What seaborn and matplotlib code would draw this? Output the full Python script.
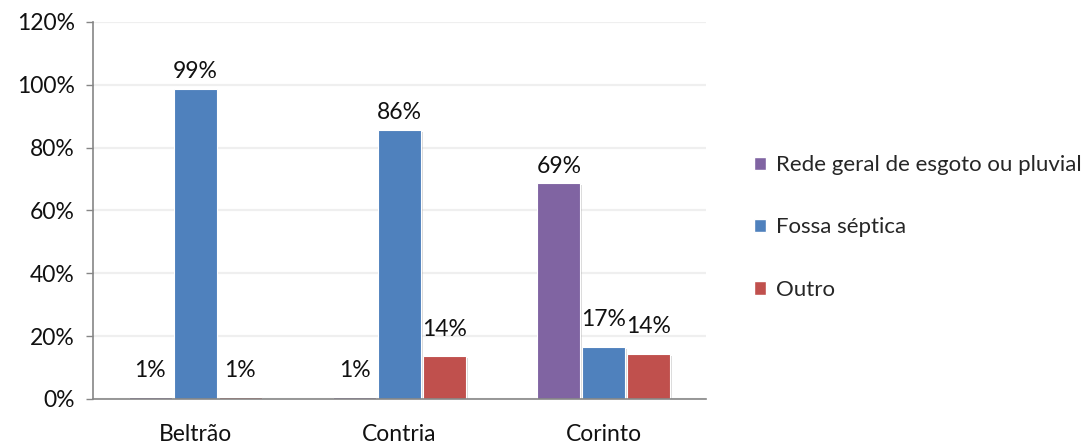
import matplotlib
matplotlib.use("Agg")
import matplotlib.pyplot as plt
import matplotlib.patheffects as pe
import seaborn as sns
import pandas as pd

# Destino do esgoto por localidade (%)
localidades = ["Beltrão", "Contria", "Corinto"]
series = ["Rede geral de esgoto ou pluvial", "Fossa séptica", "Outro"]
rede = [0.6, 0.6, 68.6]
fossa = [98.6, 85.6, 16.6]
outro = [0.6, 13.6, 14.3]
cores = ["#8064A2", "#4F81BD", "#C0504D"]
yticks = [0, 20, 40, 60, 80, 100, 120]

df = pd.DataFrame({
    "Localidade": localidades * 3,
    "Tipo": [s for s in series for _ in localidades],
    "Valor": rede + fossa + outro,
})

sns.set_theme(style="white")
plt.rcParams["font.family"] = ["Lato", "DejaVu Sans"]

fig = plt.figure(figsize=(10.86, 4.45), dpi=100)
ax = fig.add_axes([0.0856, 0.1034, 0.5645, 0.8472])

sns.barplot(data=df, x="Localidade", y="Valor", hue="Tipo", hue_order=series,
            order=localidades, palette=cores, width=0.66, gap=0.04,
            saturation=1, ax=ax, legend=True)

shadow = [pe.SimplePatchShadow(offset=(1.2, -1.2), shadow_rgbFace="#999999", alpha=0.35),
          pe.Normal()]
for cont in ax.containers:
    for bar in cont:
        bar.set_edgecolor("white")
        bar.set_linewidth(0.8)
        bar.set_path_effects(shadow)
    for bar in cont:
        h = bar.get_height()
        off = 12.5 if h > 50 else 19.5
        ax.annotate(f"{h:.0f}%", (bar.get_x() + bar.get_width() / 2, h),
                    xytext=(0, off), textcoords="offset points",
                    ha="center", va="center", fontsize=16.5, color="#111111")

ax.set_xlim(-0.5, 2.5)
ax.set_ylim(0, 120)
ax.set_yticks(yticks)
ax.set_yticklabels([f"{t}%" for t in yticks], fontsize=16.5, color="#111111")
ax.tick_params(axis="x", labelsize=16.5, colors="#111111", length=0, pad=18)
ax.tick_params(axis="y", length=5, width=1, color="#868686", pad=8, left=True)
ax.set_xlabel("")
ax.set_ylabel("")
ax.grid(axis="y", color="#EFEFEF", linewidth=1.6)
ax.set_axisbelow(True)
for s in ["top", "right"]:
    ax.spines[s].set_visible(False)
for s in ["left", "bottom"]:
    ax.spines[s].set_color("#868686")
    ax.spines[s].set_linewidth(1.2)

handles, labels = ax.get_legend_handles_labels()
ax.legend(handles, labels, loc="center left", bbox_to_anchor=(1.063, 0.455),
          frameon=False, fontsize=16, handlelength=0.55, handleheight=0.55,
          handletextpad=0.45, labelspacing=1.9, borderaxespad=0)

fig.savefig("out.png", dpi=100)
